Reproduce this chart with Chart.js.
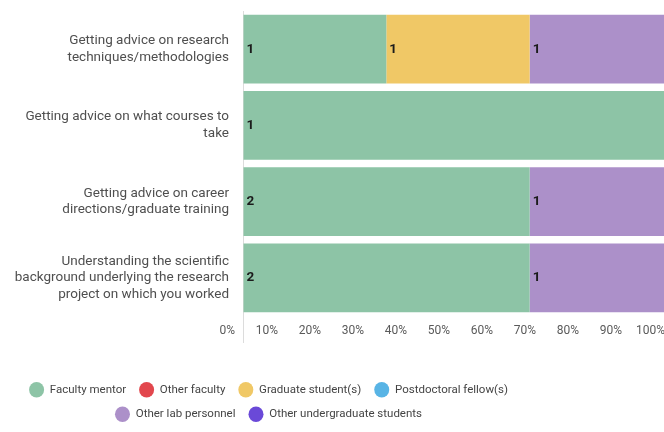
<!DOCTYPE html>
<html>
<head>
<meta charset="utf-8">
<script src="https://cdn.jsdelivr.net/npm/chart.js@4"></script>
<style>
  body { margin: 0; background: #fff; overflow: hidden; }
  #wrap { width: 680px; height: 432px; position: relative; }
</style>
</head>
<body>
<div id="wrap"><canvas id="chart"></canvas></div>
<script>
// categories (y axis), already wrapped the way the picture shows them
const categories = [
    ['Getting advice on research', 'techniques/methodologies'],
    ['Getting advice on what courses to', 'take'],
    ['Getting advice on career', 'directions/graduate training'],
    ['Understanding the scientific', 'background underlying the research', 'project on which you worked']
];

// number of responses per group
const facultyMentor  = [1, 1, 2, 2];
const otherFaculty   = [0, 0, 0, 0];
const gradStudents   = [1, 0, 0, 0];
const postdocs       = [0, 0, 0, 0];
const otherLab       = [1, 0, 1, 1];
const otherUndergrad = [0, 0, 0, 0];

const xTicks = [0, 10, 20, 30, 40, 50, 60, 70, 80, 90, 100];

const series = [
    {label: 'Faculty mentor', counts: facultyMentor, color: '#8dc4a6'},
    {label: 'Other faculty', counts: otherFaculty, color: '#e2474d'},
    {label: 'Graduate student(s)', counts: gradStudents, color: '#f0c866'},
    {label: 'Postdoctoral fellow(s)', counts: postdocs, color: '#58b4e5'},
    {label: 'Other lab personnel', counts: otherLab, color: '#ac90c9'},
    {label: 'Other undergraduate students', counts: otherUndergrad, color: '#6a49d8'}
];

// totals per row -> 100% stacked
const totals = categories.map((c, i) => series.reduce((s, d) => s + d.counts[i], 0));

const datasets = series.map(s => ({
    label: s.label,
    counts: s.counts,
    data: s.counts.map((v, i) => v / totals[i] * 100),
    backgroundColor: s.color,
    borderWidth: 0,
    barPercentage: 0.9,
    categoryPercentage: 1
}));

// count labels at the start of each segment
const valueLabels = {
    id: 'valueLabels',
    afterDatasetsDraw(chart) {
        const ctx = chart.ctx;
        ctx.save();
        ctx.font = 'bold 13.5px Roboto, sans-serif';
        ctx.fillStyle = '#1b1b1b';
        ctx.textBaseline = 'middle';
        ctx.textAlign = 'left';
        chart.data.datasets.forEach((ds, i) => {
            const meta = chart.getDatasetMeta(i);
            if (meta.hidden) return;
            meta.data.forEach((bar, j) => {
                const n = ds.counts[j];
                if (!n) return;
                ctx.fillText(n, bar.base + 3, bar.y);
            });
        });
        ctx.restore();
    }
};

// legend sits left of the canvas centre in the picture;
// y labels may use the left padding too (otherwise clipped)
const layoutTweaks = {
    id: 'layoutTweaks',
    afterLayout(chart) {
        const l = chart.legend;
        l.left -= 118;
        l.right -= 118;
        l.top += 2;
        l.bottom += 2;
        chart.scales.y.left = 0;
    }
};

const ctx = document.getElementById('chart').getContext('2d');
const chart = new Chart(ctx, {
    type: 'bar',
    data: {
        labels: categories,
        datasets: datasets
    },
    options: {
        indexAxis: 'y',
        responsive: true,
        maintainAspectRatio: false,
        animation: false,
        // left padding narrows the legend so it breaks after four items
        layout: {padding: {top: 11, right: 7, bottom: 4, left: 100}},
        scales: {
            x: {
                stacked: true,
                min: 0,
                max: 100,
                afterBuildTicks(scale) {
                    scale.ticks = xTicks.map(v => ({value: v}));
                },
                afterFit(scale) { scale.height = 53; },
                grid: {
                    color: c => c.index === 0 ? '#dcdcdc' : 'rgba(0,0,0,0)',
                    drawTicks: true,
                    tickLength: 27,
                    tickColor: c => c.index === 0 ? '#dcdcdc' : 'rgba(0,0,0,0)'
                },
                border: {display: false},
                ticks: {
                    align: 'end',
                    labelOffset: -8,
                    padding: -19,
                    maxRotation: 0,
                    autoSkip: false,
                    color: '#5a5a5a',
                    font: {family: 'Roboto', size: 12},
                    callback: v => v + '%'
                }
            },
            y: {
                stacked: true,
                afterFit(scale) {
                    scale.width = 143;
                    scale.paddingTop = 0;
                    scale.paddingBottom = 0;
                },
                grid: {display: false, drawTicks: false},
                border: {display: false},
                ticks: {
                    padding: 14,
                    color: '#4f4f4f',
                    font: {family: 'Roboto', size: 13.5, lineHeight: 1.24}
                }
            }
        },
        plugins: {
            tooltip: {enabled: false},
            legend: {
                position: 'bottom',
                labels: {
                    usePointStyle: true,
                    pointStyle: 'circle',
                    pointStyleWidth: 15,
                    boxHeight: 11,
                    padding: 13,
                    color: '#444',
                    font: {family: 'Roboto', size: 11.5}
                }
            }
        }
    },
    plugins: [valueLabels, layoutTweaks]
});
</script>
</body>
</html>
